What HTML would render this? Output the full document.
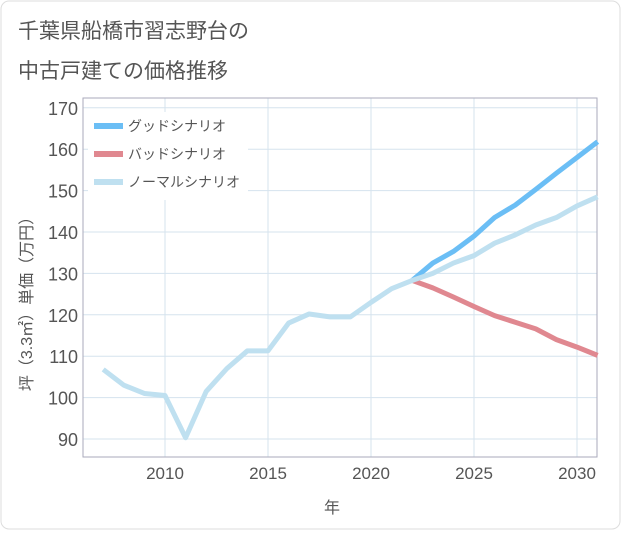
<!DOCTYPE html>
<html><head><meta charset="utf-8"><style>
body{margin:0;background:#fff;font-family:"Liberation Sans","Noto Sans CJK JP",sans-serif}
#wrap{position:relative;width:621px;height:530px;}
</style></head><body>
<div id="wrap">
<svg width="621" height="530">
<rect x="1" y="1" width="619" height="528" rx="8" fill="#fff" stroke="#ddd"/>
<text x="18" y="38" font-size="21" fill="#555">千葉県船橋市習志野台の</text>
<text x="18" y="78" font-size="21" fill="#555">中古戸建ての価格推移</text>
<g id="grid"></g>
<rect x="83" y="98" width="514" height="359" fill="none" stroke="#aab"/>
<g id="series"></g>
<g id="ticks"></g>
<rect x="88" y="112" width="160" height="88" fill="#fff"/>
<g font-size="14" fill="#555">
<g><rect x="94" y="123" width="29" height="6" fill="#6bbef5"/><text x="128" y="131">グッドシナリオ</text></g>
<g><rect x="94" y="151" width="29" height="6" fill="#e08890"/><text x="128" y="159">バッドシナリオ</text></g>
<g><rect x="94" y="179" width="29" height="6" fill="#bfe0f0"/><text x="128" y="187">ノーマルシナリオ</text></g>
</g>
<text x="332" y="513" font-size="16" fill="#555" text-anchor="middle">年</text>
<text transform="translate(32,300) rotate(-90)" font-size="16" fill="#555" text-anchor="middle">坪（3.3㎡）単価（万円）</text>
</svg>
</div>
<script>
const normalYears=[2007,2008,2009,2010,2011,2012,2013,2014,2015,2016,2017,2018,2019,2020,2021,2022,2023,2024,2025,2026,2027,2028,2029,2030,2031];
const normalValues=[106.8,103,101,100.5,90.3,101.5,107,111.3,111.3,118,120.2,119.5,119.5,123,126.3,128.3,130,132.5,134.3,137.3,139.3,141.7,143.5,146.3,148.5];
const scenYears=[2022,2023,2024,2025,2026,2027,2028,2029,2030,2031];
const goodValues=[128.3,132.5,135.3,139,143.5,146.5,150.3,154.2,158,161.8];
const badValues=[128.3,126.5,124.3,122,119.8,118.2,116.6,114,112.2,110.2];
const yTicks=[90,100,110,120,130,140,150,160,170];
const xTicks=[2010,2015,2020,2025,2030];
const NS="http://www.w3.org/2000/svg";
const X=y=>165+(y-2010)*20.6;
const Y=v=>439-(v-90)*4.14;
const grid=document.getElementById('grid'),ticks=document.getElementById('ticks'),ser=document.getElementById('series');
function mk(tag,attrs,parent){const e=document.createElementNS(NS,tag);for(const k in attrs)e.setAttribute(k,attrs[k]);parent.appendChild(e);return e;}
yTicks.forEach(v=>{
 const l=mk('line',{x1:83,x2:597,y1:Y(v),y2:Y(v),stroke:'#d5e3ee'},grid);
 
 
 const t=mk('text',{x:78,y:Y(v)+7,'font-size':18,fill:'#555','text-anchor':'end'},ticks);
 t.textContent=v;
 
 
});
xTicks.forEach(v=>{
 const l=mk('line',{x1:X(v),x2:X(v),y1:98,y2:457,stroke:'#d5e3ee'},grid);
 
 
 const t=mk('text',{x:X(v),y:479,'font-size':17,fill:'#555','text-anchor':'middle'},ticks);
 t.textContent=v;
 
 
});
function line(xs,vs,color,name){
 const p=mk('polyline',{points:xs.map((x,i)=>X(x)+','+Y(vs[i])).join(' '),fill:'none',stroke:color,'stroke-width':5,'stroke-linejoin':'round'},ser);
 
 
}
line(scenYears,goodValues,'#6bbef5','good-scenario-line');
line(scenYears,badValues,'#e08890','bad-scenario-line');
line(normalYears,normalValues,'#bfe0f0','normal-scenario-line');
</script>
</body></html>
